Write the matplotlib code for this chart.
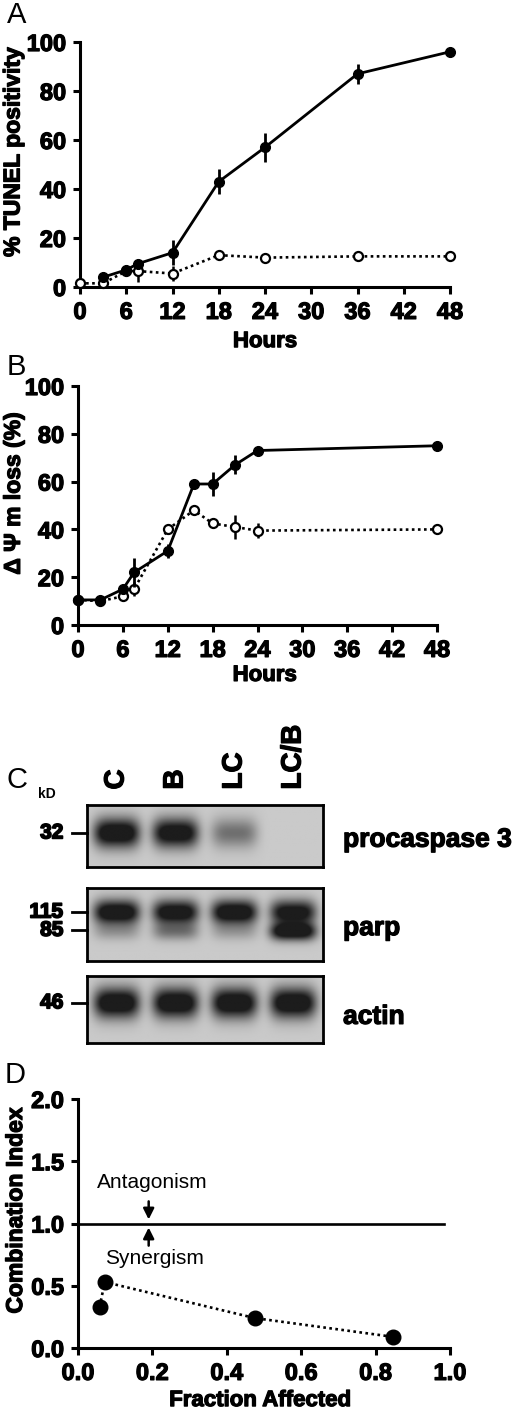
import numpy as np
import matplotlib
matplotlib.use("Agg")
import matplotlib.pyplot as plt
import matplotlib.patheffects as pe

plt.rcParams['font.family'] = ['Liberation Sans', 'DejaVu Sans']

# ---- panel A: TUNEL positivity ----
a_hours_combo = [3, 6, 7.5, 12, 18, 24, 36, 48]
a_combo = [4, 7, 9.5, 14, 43, 57, 87, 96]
a_combo_err = [2, 2, 2, 5, 5, 6, 4, 0]
a_hours_single = [0, 3, 6, 7.5, 12, 18, 24, 36, 48]
a_single = [1.5, 1.5, 6.5, 6.5, 5.5, 13, 12, 12.5, 12.5]
a_single_err = [0, 0, 0, 4.5, 3, 0, 0, 2, 0]

# ---- panel B: mitochondrial potential loss ----
b_hours_combo = [0, 3, 6, 7.5, 12, 15.5, 18, 21, 24, 48]
b_combo = [10.5, 10.5, 15, 22, 31, 59, 59, 67, 73, 75]
b_combo_err = [0, 0, 1, 6, 3, 0, 5, 4, 1, 0]
b_hours_single = [0, 3, 6, 7.5, 12, 15.5, 18, 21, 24, 48]
b_single = [10.5, 10, 12, 15, 40, 48, 42.5, 41, 39.5, 40]
b_single_err = [0, 0, 0, 3, 2, 0, 2, 5, 3, 0]

hour_ticks = [0, 6, 12, 18, 24, 30, 36, 42, 48]
pct_ticks = [0, 20, 40, 60, 80, 100]

# ---- panel C: western blot band intensities (0 = none, 1 = saturated) ----
lanes = ['C', 'B', 'LC', 'LC/B']
procaspase3 = [1.0, 0.95, 0.4, 0.0]
parp_115 = [1.0, 0.95, 1.0, 0.9]
parp_85 = [0.2, 0.35, 0.18, 1.0]
actin = [1.0, 1.0, 1.0, 1.0]

# ---- panel D: combination index ----
fraction_affected = [0.058, 0.072, 0.476, 0.846]
combination_index = [0.33, 0.53, 0.24, 0.09]

W, H = 520, 1412
fig = plt.figure(figsize=(W / 100, H / 100), dpi=100)
heavy = [pe.withStroke(linewidth=0.9, foreground='black')]


def px_axes(l, t, r, b):
    return fig.add_axes([l / W, 1 - b / H, (r - l) / W, (b - t) / H])


def style_axes(ax):
    for s in ['top', 'right']:
        ax.spines[s].set_visible(False)
    for s in ['left', 'bottom']:
        ax.spines[s].set_linewidth(2.2)
    ax.tick_params(direction='out', length=5, width=2.2, labelsize=17, pad=5)
    for lab in ax.get_xticklabels() + ax.get_yticklabels():
        lab.set_fontweight('bold')
        lab.set_path_effects(heavy)


def draw_series(ax, x, y, err, filled):
    if filled:
        ax.errorbar(x, y, yerr=err, color='black', lw=2, ls='-', marker='o',
                    ms=7, mfc='black', mec='black', elinewidth=2, capsize=0,
                    clip_on=False, zorder=4)
    else:
        ax.errorbar(x, y, yerr=err, color='black', lw=1.9, ls=(0, (1, 1.3)),
                    marker='o', ms=6.5, mfc='white', mec='black', mew=1.6,
                    elinewidth=1.8, capsize=0, clip_on=False, zorder=3)


def axis_labels(ax, xlabel, ylabel, ylab_xy, xlab_xy):
    xl = ax.set_xlabel(xlabel, fontsize=16, fontweight='bold')
    yl = ax.set_ylabel(ylabel, fontsize=16.5, fontweight='bold')
    xl.set_path_effects(heavy)
    yl.set_path_effects(heavy)
    ax.yaxis.set_label_coords(*ylab_xy)
    ax.xaxis.set_label_coords(*xlab_xy)


def time_panel(ax, xc, yc, ec, xs, ys, es, ylabel, ylab_xy, xlab_xy):
    draw_series(ax, xs, ys, es, False)
    draw_series(ax, xc, yc, ec, True)
    ax.set_xlim(0, 48)
    ax.set_ylim(0, 100)
    ax.set_xticks(hour_ticks)
    ax.set_yticks(pct_ticks)
    style_axes(ax)
    axis_labels(ax, 'Hours', ylabel, ylab_xy, xlab_xy)


axA = px_axes(80, 42, 450, 287)
time_panel(axA, a_hours_combo, a_combo, a_combo_err,
           a_hours_single, a_single, a_single_err,
           '% TUNEL positivity', (-0.15, 0.55), (0.5, -0.18))

axB = px_axes(78, 386, 437, 625)
time_panel(axB, b_hours_combo, b_combo, b_combo_err,
           b_hours_single, b_single, b_single_err,
           'Δ Ψ m loss (%)', (-0.148, 0.55), (0.52, -0.167))


# ---- panel C: blots ----
def blot(ax, rows, band_y, band_h):
    nx, ny = 240, 80
    xx = np.linspace(-0.5, len(lanes) - 0.5, nx)
    yy = np.linspace(0, 1, ny)
    X, Y = np.meshgrid(xx, yy)
    img = np.full_like(X, 0.79)
    dark = np.zeros_like(X)
    for vals, by, bh in zip(rows, band_y, band_h):
        for i, v in enumerate(vals):
            shape = np.exp(-((X - i) / 0.39) ** 4) * np.exp(-((Y - by) / bh) ** 2)
            dark += v * shape
    img -= 0.68 * np.clip(dark * 1.3, 0, 1)
    ax.imshow(img, cmap='gray', vmin=0, vmax=1, aspect='auto',
              extent=(-0.5, len(lanes) - 0.5, 1, 0), interpolation='bilinear')
    ax.set_xlim(-0.5, len(lanes) - 0.5)
    ax.set_ylim(1, 0)
    ax.set_xticks([])
    ax.set_yticks([])
    for s in ax.spines.values():
        s.set_linewidth(2)


def marker(ax, y, label):
    ax.plot([-0.065, 0], [1 - y, 1 - y], transform=ax.transAxes, color='black',
            lw=2, clip_on=False)
    t = ax.text(-0.1, 1 - y, label, transform=ax.transAxes, ha='right',
                va='center', fontsize=15, fontweight='bold')
    t.set_path_effects([pe.withStroke(linewidth=1.2, foreground='black')])


def side_label(ax, y, label):
    t = ax.text(1.085, 1 - y, label, transform=ax.transAxes, ha='left',
                va='center', fontsize=19, fontweight='bold')
    t.set_path_effects(heavy)


ax1 = px_axes(87, 805, 323, 867)
blot(ax1, [procaspase3], [0.45], [0.24])
marker(ax1, 0.45, '32')
side_label(ax1, 0.56, 'procaspase 3')
for i, lab in enumerate(lanes):
    t = ax1.text(i, -0.25, lab, ha='center', va='bottom', rotation=90,
                 fontsize=20, fontweight='bold')
    t.set_path_effects(heavy)
ax1.text(-0.17, 1.18, 'kD', transform=ax1.transAxes, ha='center', va='center',
         fontsize=10, fontweight='bold')

ax2 = px_axes(87, 888, 323, 961)
blot(ax2, [parp_115, parp_85], [0.33, 0.6], [0.17, 0.12])
marker(ax2, 0.33, '115')
marker(ax2, 0.58, '85')
side_label(ax2, 0.55, 'parp')

ax3 = px_axes(87, 976, 323, 1043)
blot(ax3, [actin], [0.4], [0.23])
marker(ax3, 0.4, '46')
side_label(ax3, 0.61, 'actin')

# ---- panel D ----
axD = px_axes(78, 1099, 450, 1348)
axD.plot(fraction_affected, combination_index, color='black', lw=1.9,
         ls=(0, (1, 1.3)), marker='o', ms=10.5, mfc='black', mec='black',
         clip_on=False, zorder=3)
axD.plot([0, 0.985], [1.0, 1.0], color='black', lw=1.9)
axD.set_xlim(0, 1)
axD.set_ylim(0, 2)
axD.set_xticks([0.0, 0.2, 0.4, 0.6, 0.8, 1.0])
axD.set_yticks([0.0, 0.5, 1.0, 1.5, 2.0])
axD.xaxis.set_major_formatter(matplotlib.ticker.FormatStrFormatter('%.1f'))
axD.yaxis.set_major_formatter(matplotlib.ticker.FormatStrFormatter('%.1f'))
style_axes(axD)
axis_labels(axD, 'Fraction Affected', 'Combination Index',
            (-0.137, 0.55), (0.49, -0.169))
axD.annotate('', xy=(0.19, 1.01), xytext=(0.19, 1.2),
             arrowprops=dict(arrowstyle='-|>', color='black', lw=1.8,
                             mutation_scale=16))
axD.annotate('', xy=(0.19, 0.99), xytext=(0.19, 0.8),
             arrowprops=dict(arrowstyle='-|>', color='black', lw=1.8,
                             mutation_scale=16))
axD.text(0.2, 1.33, 'Antagonism', ha='center', va='center', fontsize=15)
axD.text(0.205, 0.72, 'Synergism', ha='center', va='center', fontsize=15)

# panel letters
fig.text(7 / W, 1 - 15 / H, 'A', fontsize=21, va='center', ha='left')
fig.text(7 / W, 1 - 367 / H, 'B', fontsize=21, va='center', ha='left')
fig.text(7 / W, 1 - 780 / H, 'C', fontsize=21, va='center', ha='left')
fig.text(5 / W, 1 - 1075 / H, 'D', fontsize=21, va='center', ha='left')

fig.savefig('out.png', dpi=100)
